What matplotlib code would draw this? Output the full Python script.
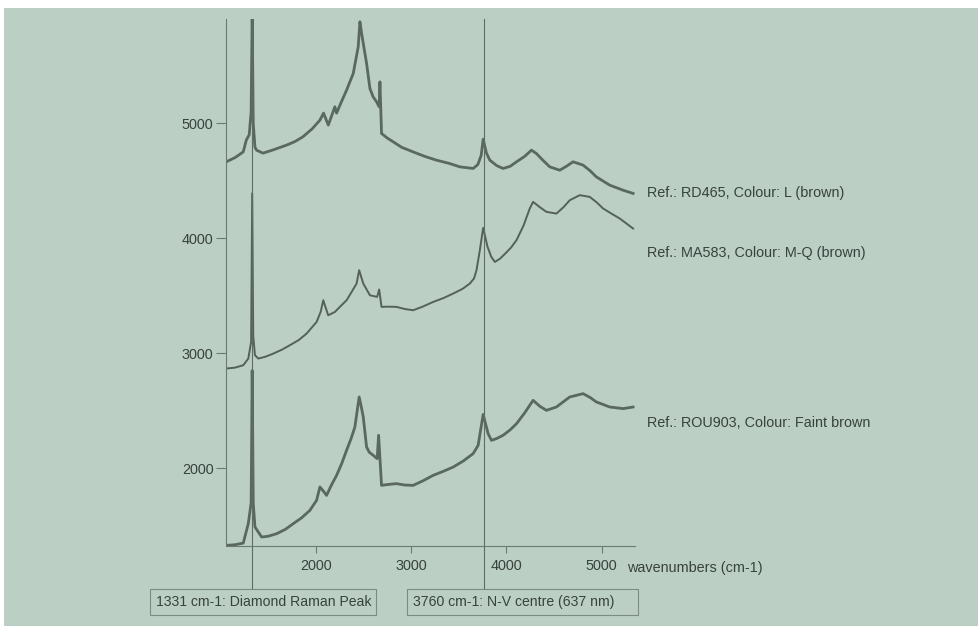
import matplotlib
matplotlib.use("Agg")
import matplotlib.pyplot as plt
from matplotlib.patches import Rectangle

# Raman / PL spectra
wn_rd465 = [1056, 1150, 1237, 1269, 1300, 1320, 1331, 1342, 1360, 1377, 1444, 1560, 1692, 1780,
            1863, 1960, 2042, 2080, 2130, 2199, 2217, 2270, 2322, 2392, 2444, 2462, 2480,
            2497, 2532, 2567, 2600, 2637, 2664, 2672, 2689, 2750, 2811, 2900, 3021, 3140,
            3266, 3400, 3511, 3651, 3700, 3735, 3756, 3790, 3826, 3900, 3965, 4040, 4106,
            4190, 4263, 4315, 4380, 4455, 4560, 4630, 4700, 4805, 4880, 4944, 5085, 5225, 5330]
int_rd465 = [4663, 4700, 4750, 4852, 4900, 5100, 5950, 5000, 4790, 4765, 4739, 4770, 4809, 4840,
             4881, 4950, 5026, 5087, 4983, 5142, 5087, 5190, 5287, 5432, 5663, 5881, 5780,
             5693, 5519, 5301, 5230, 5185, 5142, 5359, 4910, 4870, 4838, 4790, 4750, 4712,
             4678, 4650, 4620, 4606, 4640, 4720, 4860, 4740, 4678, 4630, 4606, 4625, 4664,
             4710, 4765, 4736, 4680, 4620, 4591, 4625, 4664, 4635, 4585, 4533, 4461, 4417, 4389]

wn_ma583 = [1056, 1150, 1237, 1290, 1320, 1331, 1342, 1360, 1395, 1470, 1552, 1640, 1727, 1820,
            1902, 2007, 2050, 2077, 2129, 2199, 2260, 2322, 2380, 2427, 2454, 2497, 2567,
            2643, 2664, 2689, 2760, 2846, 2930, 3021, 3120, 3231, 3340, 3441, 3540, 3616,
            3660, 3686, 3721, 3756, 3800, 3840, 3878, 3930, 3980, 4050, 4106, 4180, 4245,
            4280, 4350, 4420, 4525, 4600, 4665, 4770, 4875, 4950, 5015, 5100, 5190, 5330]
int_ma583 = [2867, 2875, 2896, 2954, 3100, 4390, 3150, 2983, 2954, 2970, 2997, 3030, 3070, 3115,
             3171, 3272, 3360, 3461, 3330, 3359, 3410, 3461, 3540, 3606, 3722, 3606, 3504,
             3490, 3554, 3403, 3405, 3403, 3385, 3374, 3405, 3446, 3480, 3519, 3560, 3606,
             3650, 3722, 3896, 4090, 3930, 3840, 3794, 3820, 3860, 3920, 3983, 4110, 4258,
             4316, 4270, 4229, 4214, 4270, 4330, 4374, 4359, 4310, 4258, 4215, 4171, 4084]

wn_rou903 = [1056, 1150, 1237, 1290, 1320, 1331, 1342, 1360, 1430, 1500, 1588, 1680, 1762, 1850,
             1937, 2007, 2042, 2080, 2112, 2160, 2217, 2270, 2322, 2370, 2409, 2454, 2475,
             2497, 2532, 2560, 2602, 2643, 2658, 2689, 2760, 2846, 2930, 3021, 3120, 3231,
             3340, 3441, 3550, 3651, 3703, 3756, 3808, 3843, 3900, 3965, 4040, 4106, 4190,
             4280, 4350, 4420, 4525, 4600, 4665, 4805, 4880, 4944, 5085, 5225, 5330]
int_rou903 = [1330, 1336, 1350, 1519, 1700, 2850, 1700, 1490, 1403, 1410, 1432, 1470, 1519, 1570,
              1635, 1722, 1838, 1800, 1765, 1850, 1939, 2040, 2157, 2260, 2359, 2620, 2540,
              2446, 2185, 2140, 2113, 2084, 2287, 1852, 1860, 1867, 1855, 1852, 1890, 1939,
              1975, 2011, 2065, 2128, 2200, 2468, 2301, 2243, 2260, 2287, 2335, 2388, 2480,
              2591, 2540, 2504, 2533, 2580, 2620, 2649, 2615, 2577, 2533, 2519, 2533]

labels = ["Ref.: RD465, Colour: L (brown)",
          "Ref.: MA583, Colour: M-Q (brown)",
          "Ref.: ROU903, Colour: Faint brown"]
label_y = [4390, 3870, 2390]

x_ticks = [2000, 3000, 4000, 5000]
y_ticks = [2000, 3000, 4000, 5000]
marker_wn = [1331, 3760]
marker_text = ["1331 cm-1: Diamond Raman Peak", "3760 cm-1: N-V centre (637 nm)"]

plt.rcParams['font.family'] = ['Liberation Sans', 'DejaVu Sans']
bg = '#bccfc4'
ink = '#37433e'
line_c = '#414e48'
fs = 10.4

W, H = 979, 626
fig = plt.figure(figsize=(W / 100, H / 100), dpi=100, facecolor='white')
# scanned page background with thin white margin at top/left
fig.patches.append(Rectangle((4 / W, 0), 1, 1 - 8 / H, transform=fig.transFigure,
                             facecolor=bg, edgecolor='none', zorder=-10))

ax = fig.add_axes([226 / W, 1 - 546 / H, (635 - 226) / W, (546 - 19) / H])
ax.set_facecolor('none')

ax.plot(wn_rd465, int_rd465, color=line_c, lw=2.0, alpha=0.8, solid_joinstyle='round')
ax.plot(wn_ma583, int_ma583, color=line_c, lw=1.4, alpha=0.85, solid_joinstyle='round')
ax.plot(wn_rou903, int_rou903, color=line_c, lw=2.0, alpha=0.8, solid_joinstyle='round')

ax.set_xlim(1056, 5350)
ax.set_ylim(1325, 5905)
ax.set_xticks(x_ticks)
ax.set_yticks(y_ticks)
for s in ['top', 'right']:
    ax.spines[s].set_visible(False)
for s in ['left', 'bottom']:
    ax.spines[s].set_color('#6b7a73')
    ax.spines[s].set_linewidth(0.8)
ax.tick_params(axis='y', length=7, width=0.8, color='#6b7a73', labelsize=fs,
               labelcolor=ink, pad=2)
ax.tick_params(axis='x', length=5, width=0.8, color='#6b7a73', labelsize=fs,
               labelcolor=ink, pad=4)

# annotation lines down to the boxes below the axis
for wn in marker_wn:
    ax.plot([wn, wn], [-0.082, 1.0], transform=ax.get_xaxis_transform(),
            color='#5f6d67', lw=0.8, clip_on=False)

# series labels right of the plot
for lab, yv in zip(labels, label_y):
    ax.text(5475, yv, lab, fontsize=fs, color=ink, va='center', ha='left', clip_on=False)

fig.text(627 / W, 1 - 568 / H, "wavenumbers (cm-1)", fontsize=fs, color=ink,
         va='center', ha='left')

# boxes under the axis
boxes = [(150, 376), (407, 638)]
for (x0, x1), txt in zip(boxes, marker_text):
    fig.patches.append(Rectangle((x0 / W, 1 - 615 / H), (x1 - x0) / W, 26 / H,
                                 transform=fig.transFigure, facecolor='none',
                                 edgecolor='#7d8b84', lw=0.8))
    fig.text((x0 + 6) / W, 1 - 602 / H, txt, fontsize=10.1, color=ink,
             va='center', ha='left')

fig.savefig("out.png", dpi=100, facecolor=fig.get_facecolor())
